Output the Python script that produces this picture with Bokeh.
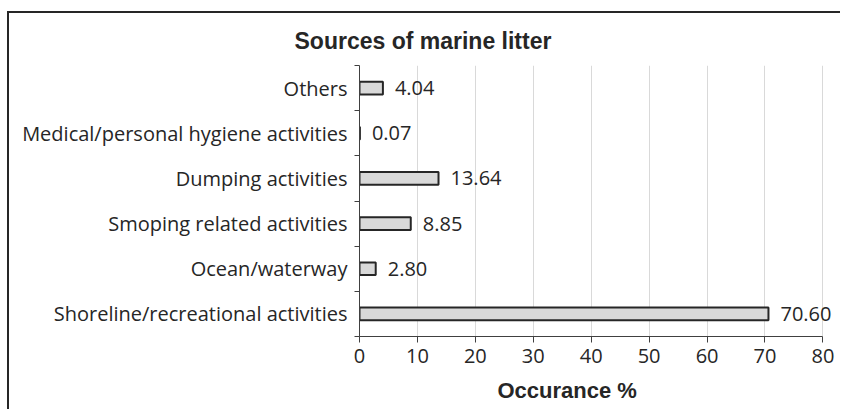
from bokeh.plotting import figure
from bokeh.models import ColumnDataSource, FixedTicker, Range1d, LabelSet, Title
from bokeh.core.properties import value
from bokeh.embed import file_html
from bokeh.resources import INLINE

# ---- data (bottom to top) ----
categories = [
    "Shoreline/recreational activities",
    "Ocean/waterway",
    "Smoping related activities",
    "Dumping activities",
    "Medical/personal hygiene activities",
    "Others",
]
occurrence = [70.60, 2.80, 8.85, 13.64, 0.07, 4.04]
x_ticks = [0, 10, 20, 30, 40, 50, 60, 70, 80]
x_axis_title = "Occurance %"
chart_title = "Sources of marine litter"

centers = [i + 0.5 for i in range(len(categories))]
boundaries = list(range(len(categories) + 1))
labels = ["%.2f" % v for v in occurrence]

src = ColumnDataSource(dict(y=centers, x=occurrence, lab=labels))

TXT = "#262626"
LABEL_FONT = "Open Sans"

p = figure(
    output_backend="svg", toolbar_location=None,
    frame_width=475, frame_height=271,
    min_border_left=350, min_border_right=6,
    min_border_top=50, min_border_bottom=70,
    x_range=Range1d(0, 82), y_range=Range1d(0, len(categories)),
    title=chart_title,
)
p.margin = (11, 0, 0, 7)
p.styles = {"border-left": "2px solid #262626", "border-top": "2px solid #262626"}
p.outline_line_color = None
p.background_fill_color = "white"
p.border_fill_color = "white"

p.title.text_font = "Liberation Sans"
p.title.text_font_size = "23px"
p.title.text_font_style = "bold"
p.title.text_color = TXT
p.title.align = "left"
p.title.offset = -65
p.title.standoff = 24

p.hbar(y="y", right="x", left=0, height=0.28, source=src,
       fill_color="#d9d9d9", line_color=TXT, line_width=2)

p.add_layout(LabelSet(x="x", y="y", text="lab", source=src, x_offset=12,
                      text_baseline="middle", text_align="left",
                      text_font=value(LABEL_FONT), text_font_size=value("20px"),
                      text_color=TXT))

# x axis
xa = p.xaxis[0]
xa.ticker = FixedTicker(ticks=x_ticks, minor_ticks=[])
xa.bounds = (0, 80)
xa.major_label_text_font = LABEL_FONT
xa.major_label_text_font_size = "20px"
xa.major_label_text_color = TXT
xa.major_label_standoff = 6
xa.major_tick_in = 0
xa.major_tick_out = 6
xa.axis_line_color = "#404040"
xa.major_tick_line_color = "#404040"

# x axis title as a below-title so it can sit where the original has it
xt = Title(text=x_axis_title, align="left", offset=138, standoff=21,
           text_font="Liberation Sans", text_font_size="22px",
           text_font_style="bold", text_color=TXT)
p.add_layout(xt, "below")

# y axis: labels at centres, ticks at boundaries (as minor ticks)
ya = p.yaxis[0]
ya.ticker = FixedTicker(ticks=centers, minor_ticks=boundaries)
ya.major_label_overrides = {c: n for c, n in zip(centers, categories)}
ya.major_label_text_font = LABEL_FONT
ya.major_label_text_font_size = "20px"
ya.major_label_text_color = TXT
ya.major_label_standoff = 6
ya.major_tick_line_color = None
ya.minor_tick_in = 0
ya.minor_tick_out = 5
ya.minor_tick_line_color = "#404040"
ya.axis_line_color = "#404040"

p.xgrid.grid_line_color = "#d9d9d9"
p.xgrid.ticker = FixedTicker(ticks=x_ticks[1:])
p.ygrid.grid_line_color = None

open("out.html", "w").write(file_html(p, INLINE))
